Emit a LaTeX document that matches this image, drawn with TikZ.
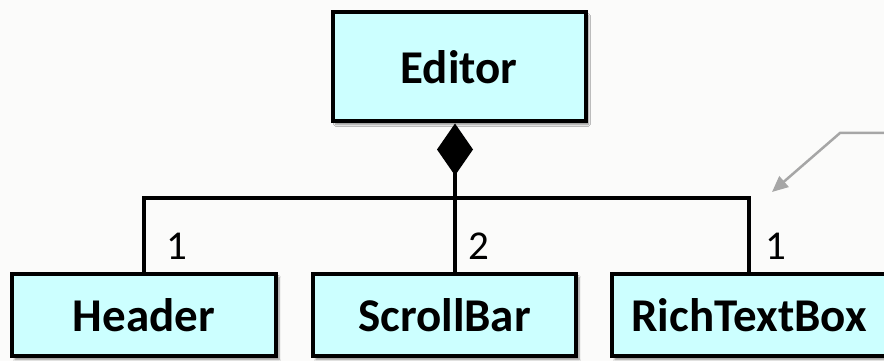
\documentclass[tikz,border=0pt]{standalone}
\usepackage{fontspec}
\setmainfont{Carlito}
\usetikzlibrary{arrows.meta,shadows.blur}
\definecolor{boxfill}{RGB}{204,255,255}
\definecolor{notegray}{RGB}{166,166,166}
\definecolor{paper}{RGB}{251,251,250}

\begin{document}
\begin{tikzpicture}[x=1pt, y=1pt,
    classbox/.style={draw, line width=4pt, fill=boxfill, font=\fontsize{47}{52}\selectfont\bfseries,
        blur shadow={shadow xshift=3pt, shadow yshift=-3pt, shadow blur steps=6, shadow opacity=45}},
    mult/.style={anchor=base west, inner sep=0pt, font=\fontsize{41}{46}\selectfont}]
\fill [paper] (0,0) rectangle (884,361);
\useasboundingbox (0,0) rectangle (884,361);
% classes
\node[classbox, minimum width=253, minimum height=109] (editor) at (459,294) {Editor};
\node[classbox, minimum width=264, minimum height=82] (header) at (144,45.5) {Header};
\node[classbox, minimum width=263, minimum height=82] (scroll) at (444.5,45.5) {ScrollBar};
\node[classbox, minimum width=274, minimum height=82] (rich) at (749,45.5) {RichTextBox};
% composition
\coordinate (bus) at (455,163);
\draw [line width=4pt] (header.north) |- (bus) -| (rich.north);
\draw [line width=4pt, {Diamond[length=52pt, width=36pt]}-] (editor.south -| bus) -- (scroll.north -| bus);
\node[mult] (m1) at (166,101) {1};
\node[mult] (m2) at (468,101) {2};
\node[mult] (m3) at (765,101) {1};
% note pointer
\coordinate (notestart) at (890,228);
\coordinate (notebend) at (840,228);
\coordinate (notetip) at (772,169);
\draw [notegray, line width=2.5pt, -{Triangle[length=16pt, width=14pt]}] (notestart) -- (notebend) -- (notetip);
\end{tikzpicture}
\end{document}
